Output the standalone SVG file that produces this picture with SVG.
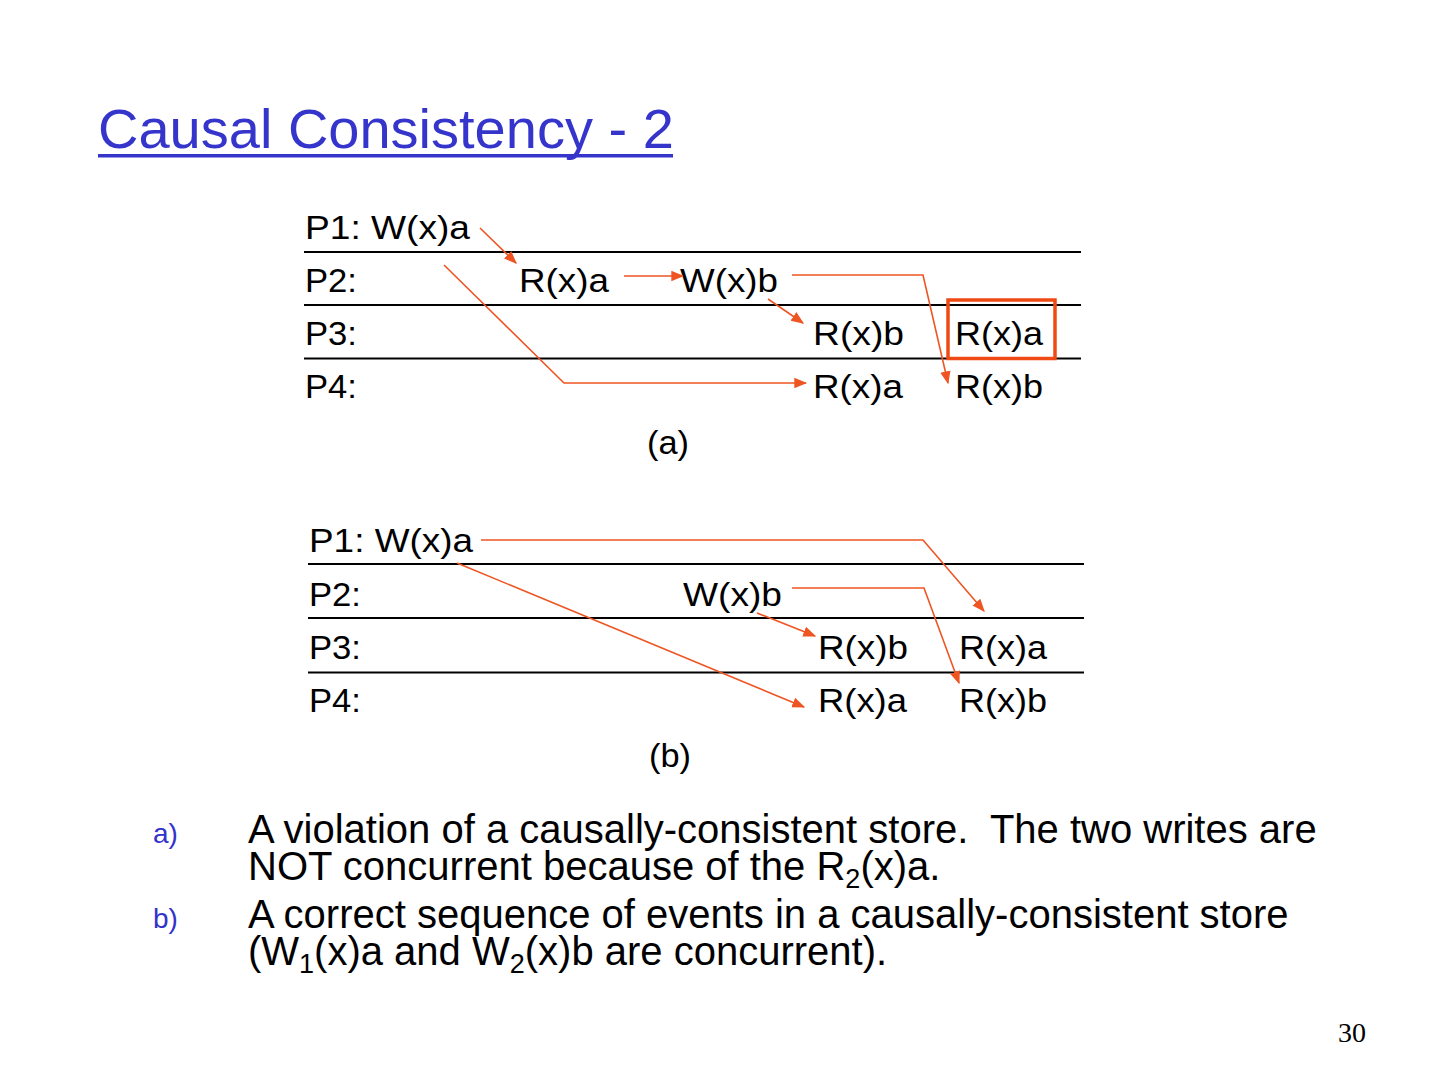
<svg xmlns="http://www.w3.org/2000/svg" width="1440" height="1080" viewBox="0 0 1440 1080">
<defs>
<style>
.lbl{font-family:"Liberation Sans",Arial,sans-serif;font-size:34px;fill:#000}
.ln{stroke:#000;stroke-width:2;fill:none}
.arr{stroke:#ee5522;stroke-width:1.6;fill:none;marker-end:url(#ah)}
.body{font-family:"Liberation Sans",Arial,sans-serif;font-size:40px;fill:#000;white-space:pre}
.tag{font-family:"Liberation Sans",Arial,sans-serif;font-size:28px;fill:#3333cc}
</style>
<marker id="ah" viewBox="0 0 10 10" refX="9" refY="5" markerWidth="13" markerHeight="13" markerUnits="userSpaceOnUse" orient="auto">
<path d="M0,1 L10,5 L0,9 z" fill="#ee5522"/>
</marker>
</defs>
<rect width="1440" height="1080" fill="#fff"/>
<g id="title">
<text x="98" y="148" font-family="Liberation Sans, Arial, sans-serif" font-size="56" fill="#3535cc">Causal Consistency - 2</text>
<rect x="98" y="154" width="575" height="3.5" fill="#3535cc"/>
</g>
<g id="diagram-a">
<g id="a-lines">
<line class="ln" x1="304" y1="252" x2="1081" y2="252"/>
<line class="ln" x1="304" y1="305" x2="1081" y2="305"/>
<line class="ln" x1="304" y1="358.5" x2="1081" y2="358.5"/>
</g>
<g id="a-p1"><text class="lbl" x="305" y="239" textLength="165" lengthAdjust="spacingAndGlyphs">P1: W(x)a</text></g>
<g id="a-p2"><text class="lbl" x="305" y="292" textLength="52" lengthAdjust="spacingAndGlyphs">P2:</text></g>
<g id="a-p3"><text class="lbl" x="305" y="345" textLength="52" lengthAdjust="spacingAndGlyphs">P3:</text></g>
<g id="a-p4"><text class="lbl" x="305" y="398" textLength="52" lengthAdjust="spacingAndGlyphs">P4:</text></g>
<g id="a-p2-rxa"><text class="lbl" x="519" y="292" textLength="90" lengthAdjust="spacingAndGlyphs">R(x)a</text></g>
<g id="a-p2-wxb"><text class="lbl" x="680" y="292" textLength="98" lengthAdjust="spacingAndGlyphs">W(x)b</text></g>
<g id="a-p3-rxb"><text class="lbl" x="813" y="345" textLength="91" lengthAdjust="spacingAndGlyphs">R(x)b</text></g>
<g id="a-p3-rxa"><rect x="948" y="300" width="107" height="58.5" fill="none" stroke="#f04a14" stroke-width="3.5"/><text class="lbl" x="955" y="345" textLength="88" lengthAdjust="spacingAndGlyphs">R(x)a</text></g>
<g id="a-p4-rxa"><text class="lbl" x="813" y="398" textLength="90" lengthAdjust="spacingAndGlyphs">R(x)a</text></g>
<g id="a-p4-rxb"><text class="lbl" x="955" y="398" textLength="88" lengthAdjust="spacingAndGlyphs">R(x)b</text></g>
<g id="a-cap"><text class="lbl" x="647" y="454" textLength="42" lengthAdjust="spacingAndGlyphs">(a)</text></g>
</g>
<g id="connectors-a">
<path class="arr" d="M480,228 L516,263"/>
<path class="arr" d="M444,265 L564,383 L806,383"/>
<path class="arr" d="M624,276 L683,276"/>
<path class="arr" d="M768,299 L803,323"/>
<path class="arr" d="M792,275 L923,275 L948,383"/>
</g>
<g id="diagram-b">
<g id="b-lines">
<line class="ln" x1="308" y1="564" x2="1084" y2="564"/>
<line class="ln" x1="308" y1="618" x2="1084" y2="618"/>
<line class="ln" x1="308" y1="672.5" x2="1084" y2="672.5"/>
</g>
<g id="b-p1"><text class="lbl" x="309" y="552" textLength="164" lengthAdjust="spacingAndGlyphs">P1: W(x)a</text></g>
<g id="b-p2"><text class="lbl" x="309" y="606" textLength="52" lengthAdjust="spacingAndGlyphs">P2:</text></g>
<g id="b-p3"><text class="lbl" x="309" y="659" textLength="52" lengthAdjust="spacingAndGlyphs">P3:</text></g>
<g id="b-p4"><text class="lbl" x="309" y="712" textLength="52" lengthAdjust="spacingAndGlyphs">P4:</text></g>
<g id="b-p2-wxb"><text class="lbl" x="683" y="606" textLength="99" lengthAdjust="spacingAndGlyphs">W(x)b</text></g>
<g id="b-p3-rxb"><text class="lbl" x="818" y="659" textLength="90" lengthAdjust="spacingAndGlyphs">R(x)b</text></g>
<g id="b-p3-rxa"><text class="lbl" x="959" y="659" textLength="88" lengthAdjust="spacingAndGlyphs">R(x)a</text></g>
<g id="b-p4-rxa"><text class="lbl" x="818" y="712" textLength="89" lengthAdjust="spacingAndGlyphs">R(x)a</text></g>
<g id="b-p4-rxb"><text class="lbl" x="959" y="712" textLength="88" lengthAdjust="spacingAndGlyphs">R(x)b</text></g>
<g id="b-cap"><text class="lbl" x="649" y="767" textLength="42" lengthAdjust="spacingAndGlyphs">(b)</text></g>
</g>
<g id="connectors-b">
<path class="arr" d="M481,540 L923,540 L984,611"/>
<path class="arr" d="M457,563 L804,707"/>
<path class="arr" d="M757,613 L815,636"/>
<path class="arr" d="M792,588 L924,588 L959,683"/>
</g>
<g id="notes">
<text class="tag" x="153" y="843">a)</text>
<text class="body" x="248" y="843">A violation of a causally-consistent store.  The two writes are</text>
<text class="body" x="248" y="880">NOT concurrent because of the R<tspan font-size="27" dy="8">2</tspan><tspan dy="-8">(x)a.</tspan></text>
<text class="tag" x="153" y="928">b)</text>
<text class="body" x="248" y="928">A correct sequence of events in a causally-consistent store</text>
<text class="body" x="248" y="965">(W<tspan font-size="27" dy="8">1</tspan><tspan dy="-8">(x)a and W</tspan><tspan font-size="27" dy="8">2</tspan><tspan dy="-8">(x)b are concurrent).</tspan></text>
</g>
<g id="page-number">
<text x="1338" y="1042" font-family="Liberation Serif, Times New Roman, serif" font-size="28" fill="#000">30</text>
</g>
</svg>
